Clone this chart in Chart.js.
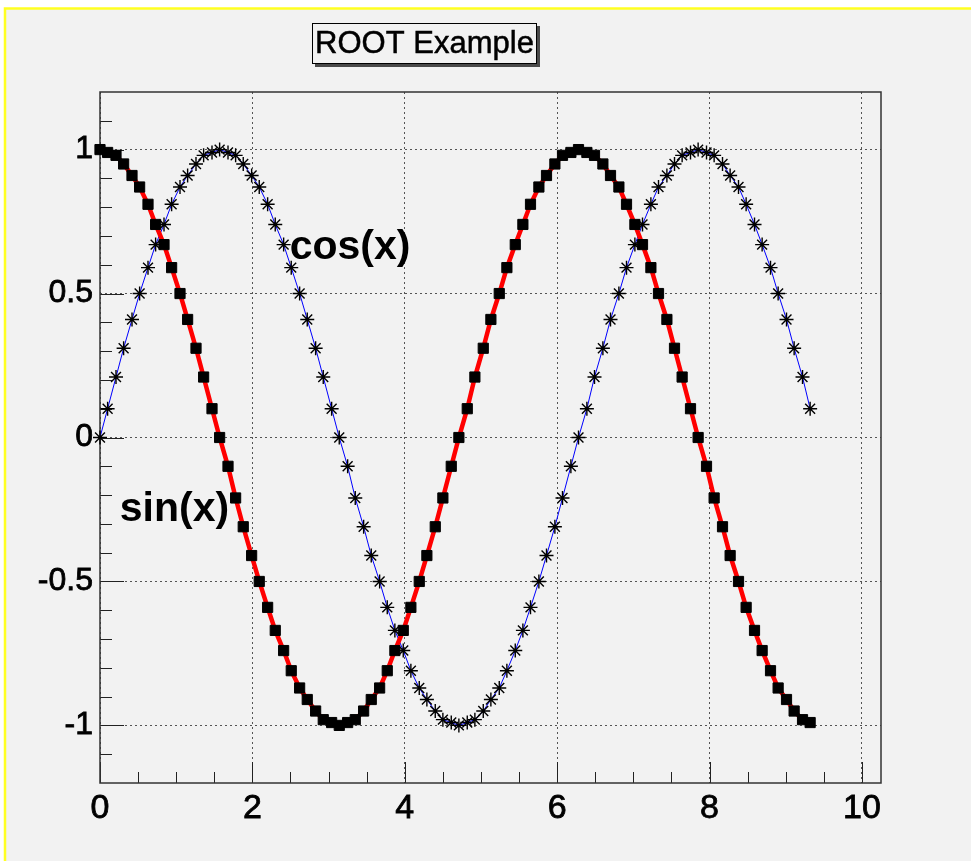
<!DOCTYPE html>
<html>
<head>
<meta charset="utf-8">
<title>ROOT Example</title>
<script src="https://cdn.jsdelivr.net/npm/chart.js@4"></script>
<style>
  html, body { margin: 0; padding: 0; background: #ffffff; }
  canvas { display: block; }
</style>
</head>
<body>
<canvas id="graph" width="971" height="861"></canvas>
<script>
// valores de la grafica
const xValues = [
  0, 0.10, 0.21, 0.31, 0.42, 0.52, 0.63, 0.73, 0.84, 0.94,
  1.05, 1.15, 1.26, 1.36, 1.47, 1.57, 1.68, 1.78, 1.88, 1.99,
  2.09, 2.20, 2.30, 2.41, 2.51, 2.62, 2.72, 2.83, 2.93, 3.04,
  3.14, 3.25, 3.35, 3.46, 3.56, 3.67, 3.77, 3.87, 3.98, 4.08,
  4.19, 4.29, 4.40, 4.50, 4.61, 4.71, 4.82, 4.92, 5.03, 5.13,
  5.24, 5.34, 5.45, 5.55, 5.65, 5.76, 5.86, 5.97, 6.07, 6.18,
  6.28, 6.39, 6.49, 6.60, 6.70, 6.81, 6.91, 7.02, 7.12, 7.23,
  7.33, 7.44, 7.54, 7.64, 7.75, 7.85, 7.96, 8.06, 8.17, 8.27,
  8.38, 8.48, 8.59, 8.69, 8.80, 8.90, 9.01, 9.11, 9.22, 9.32
];
const sinValues = [
  0, 0.10, 0.21, 0.31, 0.41, 0.50, 0.59, 0.67, 0.74, 0.81,
  0.87, 0.91, 0.95, 0.98, 0.99, 1.00, 0.99, 0.98, 0.95, 0.91,
  0.87, 0.81, 0.74, 0.67, 0.59, 0.50, 0.41, 0.31, 0.21, 0.10,
  0, -0.10, -0.21, -0.31, -0.41, -0.50, -0.59, -0.67, -0.74, -0.81,
  -0.87, -0.91, -0.95, -0.98, -0.99, -1.00, -0.99, -0.98, -0.95, -0.91,
  -0.87, -0.81, -0.74, -0.67, -0.59, -0.50, -0.41, -0.31, -0.21, -0.10,
  0, 0.10, 0.21, 0.31, 0.41, 0.50, 0.59, 0.67, 0.74, 0.81,
  0.87, 0.91, 0.95, 0.98, 0.99, 1.00, 0.99, 0.98, 0.95, 0.91,
  0.87, 0.81, 0.74, 0.67, 0.59, 0.50, 0.41, 0.31, 0.21, 0.10
];
const cosValues = [
  1.00, 0.99, 0.98, 0.95, 0.91, 0.87, 0.81, 0.74, 0.67, 0.59,
  0.50, 0.41, 0.31, 0.21, 0.10, 0, -0.10, -0.21, -0.31, -0.41,
  -0.50, -0.59, -0.67, -0.74, -0.81, -0.87, -0.91, -0.95, -0.98, -0.99,
  -1.00, -0.99, -0.98, -0.95, -0.91, -0.87, -0.81, -0.74, -0.67, -0.59,
  -0.50, -0.41, -0.31, -0.21, -0.10, 0, 0.10, 0.21, 0.31, 0.41,
  0.50, 0.59, 0.67, 0.74, 0.81, 0.87, 0.91, 0.95, 0.98, 0.99,
  1.00, 0.99, 0.98, 0.95, 0.91, 0.87, 0.81, 0.74, 0.67, 0.59,
  0.50, 0.41, 0.31, 0.21, 0.10, 0, -0.10, -0.21, -0.31, -0.41,
  -0.50, -0.59, -0.67, -0.74, -0.81, -0.87, -0.91, -0.95, -0.98, -0.99
];
const xTicks = [0, 2, 4, 6, 8, 10];
const yTicks = [-1, -0.5, 0, 0.5, 1];

const TITLE = 'ROOT Example';
// etiquetas de las curvas, en coordenadas de los ejes
const curveLabels = [
  { text: 'cos(x)', x: 2.49, y: 0.66 },
  { text: 'sin(x)', x: 0.26, y: -0.25 }
];

const FONT = "'Liberation Sans', Arial, Helvetica, sans-serif";
Chart.defaults.font.family = FONT;
Chart.defaults.color = '#000';

const sinPoints = xValues.map((x, i) => ({ x: x, y: sinValues[i] }));
const cosPoints = xValues.map((x, i) => ({ x: x, y: cosValues[i] }));

// fondo, marco, ticks interiores, titulo y textos
const rootStyle = {
  id: 'rootStyle',
  beforeDraw(chart) {
    const c = chart.ctx;
    c.save();
    c.fillStyle = '#ffffff';
    c.fillRect(0, 0, chart.width, chart.height);
    c.fillStyle = '#f2f2f2';
    c.fillRect(5, 8, chart.width - 5, chart.height - 8);
    c.strokeStyle = '#ffff22';
    c.lineWidth = 2.5;
    c.beginPath();
    c.moveTo(5, chart.height);
    c.lineTo(5, 8.5);
    c.lineTo(chart.width, 8.5);
    c.stroke();
    c.restore();
  },
  beforeDatasetsDraw(chart) {
    const c = chart.ctx;
    const a = chart.chartArea;
    const xs = chart.scales.x;
    const ys = chart.scales.y;
    c.save();
    c.strokeStyle = '#222';
    c.lineWidth = 1;
    c.beginPath();
    // eje x: mayores cada 2, menores cada 0.5
    for (let k = 0; k <= 20; k++) {
      const v = k * 0.5;
      const px = Math.round(xs.getPixelForValue(v)) + 0.5;
      const len = xTicks.includes(v) ? 21 : 11;
      c.moveTo(px, a.bottom);
      c.lineTo(px, a.bottom - len);
    }
    // eje y: mayores cada 0.5, menores cada 0.1
    for (let k = -11; k <= 11; k++) {
      const v = k / 10;
      const py = Math.round(ys.getPixelForValue(v)) + 0.5;
      const len = yTicks.includes(v) ? 24 : 12;
      c.moveTo(a.left, py);
      c.lineTo(a.left + len, py);
    }
    c.stroke();
    c.strokeStyle = '#333';
    c.lineWidth = 1.5;
    c.strokeRect(a.left, a.top, a.right - a.left, a.bottom - a.top);
    c.restore();
  },
  afterDraw(chart) {
    const c = chart.ctx;
    const xs = chart.scales.x;
    const ys = chart.scales.y;
    c.save();
    // caja del titulo con sombra
    const bx = 312, by = 23, bw = 225, bh = 41;
    c.fillStyle = '#4a4a4a';
    c.fillRect(bx + 3, by + 3, bw, bh);
    c.fillStyle = '#f2f2f2';
    c.fillRect(bx, by, bw, bh);
    c.strokeStyle = '#000';
    c.lineWidth = 1;
    c.strokeRect(bx + 0.5, by + 0.5, bw - 1, bh - 1);
    c.fillStyle = '#000';
    c.font = '31px ' + FONT;
    c.textAlign = 'center';
    c.textBaseline = 'middle';
    c.lineWidth = 0.5;
    c.fillText(TITLE, bx + bw / 2, by + bh / 2 + 1);
    c.strokeText(TITLE, bx + bw / 2, by + bh / 2 + 1);
    // textos de las curvas
    c.font = 'bold 41px ' + FONT;
    c.textAlign = 'left';
    curveLabels.forEach(l => {
      c.fillText(l.text, xs.getPixelForValue(l.x), ys.getPixelForValue(l.y));
    });
    c.restore();
  }
};

const ctx = document.getElementById('graph');

new Chart(ctx, {
  type: 'line',
  data: {
    datasets: [
      {
        label: 'sin(x)',
        data: sinPoints,
        borderColor: '#0000ff',
        borderWidth: 1,
        pointStyle: 'star',
        pointRadius: 7,
        pointBorderColor: '#000',
        pointBorderWidth: 1.4,
        pointBackgroundColor: '#000',
        tension: 0,
        fill: false,
        clip: false,
        order: 2
      },
      {
        label: 'cos(x)',
        data: cosPoints,
        borderColor: '#ff0000',
        borderWidth: 4.5,
        pointStyle: 'rect',
        pointRadius: 7.2,
        pointBorderColor: '#000',
        pointBorderWidth: 1,
        pointBackgroundColor: '#000',
        tension: 0,
        fill: false,
        clip: false,
        order: 1
      }
    ]
  },
  options: {
    responsive: false,
    animation: false,
    events: [],
    layout: { padding: { left: 0, top: 92, right: 90, bottom: 0 } },
    plugins: {
      legend: { display: false },
      title: { display: false },
      tooltip: { enabled: false }
    },
    scales: {
      x: {
        type: 'linear',
        min: 0,
        max: 10.25,
        afterBuildTicks: s => { s.ticks = xTicks.map(v => ({ value: v })); },
        afterFit: s => { s.height = 78; },
        ticks: {
          autoSkip: false,
          maxRotation: 0,
          padding: 5,
          color: '#000',
          textStrokeColor: '#000',
          textStrokeWidth: 0.8,
          font: { size: 34 },
          callback: v => String(v)
        },
        grid: { color: '#555', lineWidth: 1, drawTicks: false },
        border: { display: false, dash: [2, 3] }
      },
      y: {
        type: 'linear',
        min: -1.2,
        max: 1.2,
        afterBuildTicks: s => { s.ticks = yTicks.map(v => ({ value: v })); },
        afterFit: s => { s.width = 100; },
        ticks: {
          autoSkip: false,
          padding: 7,
          color: '#000',
          textStrokeColor: '#000',
          textStrokeWidth: 0.8,
          font: { size: 32 },
          callback: v => String(v)
        },
        grid: { color: '#555', lineWidth: 1, drawTicks: false },
        border: { display: false, dash: [2, 3] }
      }
    }
  },
  plugins: [rootStyle]
});
</script>
</body>
</html>
